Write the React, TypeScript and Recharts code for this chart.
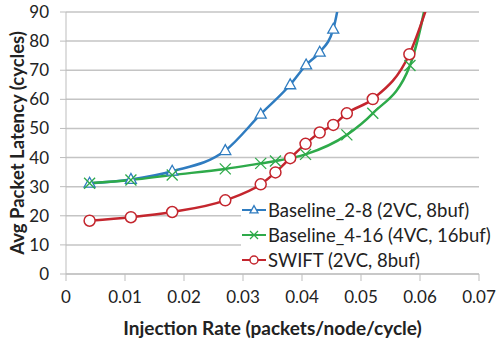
import { LineChart, Line, XAxis, YAxis, CartesianGrid } from 'recharts'

// injection rate (packets/node/cycle) -> avg latency (cycles)
// last point of each series lies above the 90 cap, only to carry the line off the top
const baseline28X = [0.004, 0.011, 0.018, 0.027, 0.033, 0.038, 0.0407, 0.043, 0.0453, 0.0472]
const baseline28Y = [31.2, 32.5, 35.3, 42.4, 54.9, 65, 71.8, 76.2, 84.1, 105]

const baseline416X = [0.004, 0.011, 0.018, 0.027, 0.033, 0.0355, 0.0406, 0.0476, 0.052, 0.0583, 0.0622]
const baseline416Y = [31.2, 32.3, 34, 36.1, 38, 38.8, 41.1, 47.8, 55.2, 71.6, 105]

const swiftX = [0.004, 0.011, 0.018, 0.027, 0.033, 0.0355, 0.038, 0.0406, 0.043, 0.0453, 0.0476, 0.052, 0.0582, 0.0625]
const swiftY = [18.3, 19.5, 21.3, 25.3, 30.8, 34.9, 39.8, 44.7, 48.6, 51.2, 55.2, 60.1, 75.5, 100]

const xTicks = [0, 0.01, 0.02, 0.03, 0.04, 0.05, 0.06, 0.07]
const yTicks = [0, 10, 20, 30, 40, 50, 60, 70, 80, 90]

const seriesNames = ['Baseline_2-8 (2VC, 8buf)', 'Baseline_4-16 (4VC, 16buf)', 'SWIFT (2VC, 8buf)']

const BLUE = '#2f7cc0'
const GREEN = '#2eaa4a'
const RED = '#c4262e'
const FONT = 'Lato, "Open Sans", sans-serif'

const toPoints = (xs: number[], ys: number[]) => xs.map((x, i) => ({ x, y: ys[i] }))

type Shape = 'triangle' | 'cross' | 'circle'

function Marker({ shape, cx, cy, color, r }: { shape: Shape; cx: number; cy: number; color: string; r: number }) {
  if (shape === 'triangle') {
    const h = r * 1.8
    return (
      <polygon
        points={`${cx},${cy - h * 0.6} ${cx - r},${cy + h * 0.4} ${cx + r},${cy + h * 0.4}`}
        fill="#fff"
        stroke={color}
        strokeWidth={1.3}
      />
    )
  }
  if (shape === 'cross') {
    return (
      <g stroke={color} strokeWidth={1.3}>
        <line x1={cx - r} y1={cy - r} x2={cx + r} y2={cy + r} />
        <line x1={cx - r} y1={cy + r} x2={cx + r} y2={cy - r} />
      </g>
    )
  }
  return <circle cx={cx} cy={cy} r={r} fill="#fff" stroke={color} strokeWidth={1.5} />
}

const makeDot = (shape: Shape, color: string) => (props: any) => {
  const { cx, cy, payload, index } = props
  if (payload.y > 90 || cx == null || cy == null) return <g key={index} />
  return (
    <g key={index}>
      <Marker shape={shape} cx={cx} cy={cy} color={color} r={5.5} />
    </g>
  )
}

const legendItems: { shape: Shape; color: string }[] = [
  { shape: 'triangle', color: BLUE },
  { shape: 'cross', color: GREEN },
  { shape: 'circle', color: RED },
]

function ChartLegend() {
  return (
    <div
      style={{
        position: 'absolute',
        left: 241,
        top: 196,
        width: 255,
        background: '#fff',
        padding: '1px 0',
        fontFamily: FONT,
        fontSize: 18.5,
        color: '#222',
      }}
    >
      {legendItems.map((it, i) => (
        <div key={i} style={{ display: 'flex', alignItems: 'center', height: 25 }}>
          <svg width={26} height={14} style={{ marginRight: 1 }}>
            <line x1={1} y1={7} x2={25} y2={7} stroke={it.color} strokeWidth={2} />
            <Marker shape={it.shape} cx={13} cy={7} color={it.color} r={4} />
          </svg>
          <span style={{ whiteSpace: 'nowrap' }}>{seriesNames[i]}</span>
        </div>
      ))}
    </div>
  )
}

export default function App() {
  return (
    <div style={{ position: 'fixed', left: 0, top: 0, width: 496, height: 341, background: '#fff', overflow: 'hidden' }}>
      <LineChart width={496} height={341} margin={{ top: 12, right: 17, left: 0, bottom: 0 }}>
        <CartesianGrid vertical={false} stroke="#c4c4c4" strokeWidth={1.5} />
        <XAxis
          type="number"
          dataKey="x"
          domain={[0, 0.07]}
          ticks={xTicks}
          interval={0}
          height={67}
          stroke="#bdbdbd"
          tickSize={7}
          tickMargin={10}
          tick={{ fontSize: 17, fill: '#222', fontFamily: FONT }}
          label={{ value: 'Injection Rate (packets/node/cycle)', position: 'insideBottom', offset: 6, style: { fontSize: 19, fontWeight: 700, fill: '#222', fontFamily: FONT } }}
        />
        <YAxis
          type="number"
          domain={[0, 90]}
          ticks={yTicks}
          interval={0}
          allowDataOverflow
          width={66}
          stroke="#bdbdbd"
          tickSize={6}
          tickMargin={11}
          tick={{ fontSize: 17, fill: '#222', fontFamily: FONT }}
          label={{ value: 'Avg Packet Latency (cycles)', angle: -90, position: 'insideLeft', offset: 17, style: { textAnchor: 'middle', fontSize: 18.5, fontWeight: 700, fill: '#222', fontFamily: FONT } }}
        />
        <Line
          data={toPoints(baseline28X, baseline28Y)}
          dataKey="y"
          type="monotone"
          stroke={BLUE}
          strokeWidth={2.5}
          dot={makeDot('triangle', BLUE)}
          isAnimationActive={false}
        />
        <Line
          data={toPoints(baseline416X, baseline416Y)}
          dataKey="y"
          type="monotone"
          stroke={GREEN}
          strokeWidth={2.5}
          dot={makeDot('cross', GREEN)}
          isAnimationActive={false}
        />
        <Line
          data={toPoints(swiftX, swiftY)}
          dataKey="y"
          type="monotone"
          stroke={RED}
          strokeWidth={2.5}
          dot={makeDot('circle', RED)}
          isAnimationActive={false}
        />
      </LineChart>
      <ChartLegend />
    </div>
  )
}
